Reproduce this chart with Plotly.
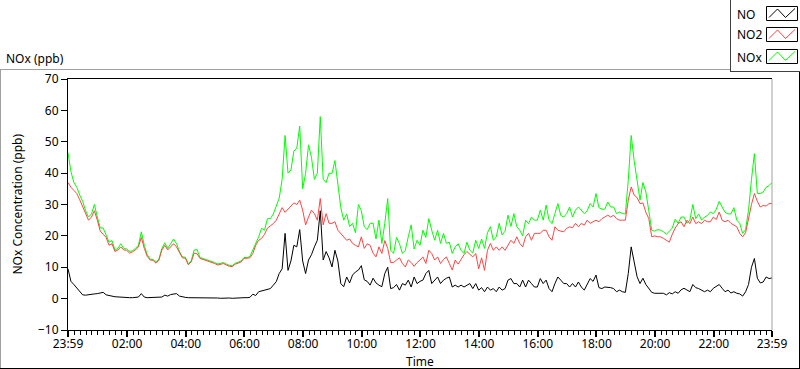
import plotly.graph_objects as go

# ---------------- data (6-minute samples starting 23:59) ----------------
step_minutes = 6

nox_ppb = [
    46.5, 40.5, 37, 35.5, 33, 31, 28, 26, 27, 30,
    26, 22.5, 22.5, 20.5, 18, 18.5, 15.5, 16, 17.5, 16,
    15.8, 15, 15.3, 16, 17, 21.3, 17, 14, 12.6, 12.5,
    11.6, 12.6, 16, 17.8, 16, 17.5, 19, 17.5, 15, 13.3,
    13.2, 11.1, 12, 15.5, 15.6, 13.1, 12.8, 12.5, 12.1, 11.8,
    11.5, 11.0, 11.2, 11.5, 11.0, 10.6, 10.5, 11.3, 11.6, 12.0,
    13.1, 13.1, 13.4, 15.5, 17.5, 19.7, 22.4, 21.8, 25.5, 25.5,
    27, 29.5, 32, 38, 52, 40, 41, 47, 48, 55,
    35, 39.9, 49, 45, 38, 40, 58, 38, 37, 40,
    39.9, 44, 36, 29, 25, 27, 23, 24, 21, 30,
    28, 22.9, 22, 24, 24, 19, 25, 17.6, 24, 31.9,
    15.4, 14.4, 19.5, 17.5, 14.4, 15.4, 19.7, 23.5, 15.8, 18.6,
    17, 21.8, 19.5, 25.5, 21.8, 18.6, 21.8, 17.6, 20.8, 17.6,
    18, 14.4, 16.5, 17.5, 15.4, 14.4, 18, 15.4, 14.5, 18.6,
    16, 19, 16, 21, 22.9, 18.6, 19.7, 24, 20.3, 21.5,
    26.6, 23, 27.1, 22.9, 21.8, 20, 25, 23.9, 26, 25,
    25, 28.2, 25, 29.8, 25, 23.9, 27.1, 30.3, 26.5, 26,
    27.1, 29.2, 26, 28.2, 29.2, 28.2, 27.1, 28, 30.3, 29.2,
    33.5, 29, 28.5, 28.5, 30.8, 29.2, 29.2, 27.1, 27.6, 27.1,
    27, 37.7, 52, 44, 37, 31.4, 37, 34, 28, 21.8,
    21.5, 22, 21.8, 21.3, 20.5, 21.5, 22.5, 25.3, 24, 26,
    26, 24, 25, 30, 25.5, 27, 25, 26, 26.5, 27.6,
    27.1, 28.5, 31, 29.2, 27.5, 27, 27, 29, 25, 24,
    20.8, 22, 28.2, 38, 46.2, 33.5, 33.5, 34, 35.5, 36, 37,
]

no2_ppb = [
    37, 35.5, 34.5, 33.5, 31.5, 29.5, 27, 25, 26, 28,
    25, 21.5, 20.5, 19.5, 17, 17.5, 15, 15.5, 16.5, 15.5,
    15.4, 14.5, 14.9, 15.5, 16.5, 19.5, 16, 13.5, 12.3, 12.2,
    11.3, 12.3, 15.5, 17, 15.5, 16.5, 17.5, 16.5, 14.5, 13,
    12.9, 10.8, 11.7, 14.5, 14.3, 12.8, 12.5, 12.2, 11.8, 11.5,
    11.2, 10.7, 10.9, 11.2, 10.7, 10.3, 10.2, 11.0, 11.3, 11.7,
    12.8, 12.8, 13, 14.4, 17, 18.6, 19.2, 20.5, 22.5, 23.2,
    23.9, 25, 27, 29, 27.5, 28.5, 29.5, 30.5, 30, 31.4,
    28.2, 23.5, 26, 28.2, 27.1, 25, 31.9, 23.5, 27.1, 24,
    24, 24.5, 21.8, 20.8, 19.7, 18.6, 19, 17.6, 17, 16.5,
    19.7, 16, 17.5, 17, 14.5, 13.3, 16.5, 14.4, 18.5, 16,
    11.5, 11.5, 12.3, 13, 11.2, 10.1, 12.3, 11.5, 10.3, 11.5,
    12.3, 13.3, 11.2, 15.4, 14.4, 12.3, 13.3, 11.2, 12.5, 13.3,
    11.2, 9.1, 12.3, 11, 12.5, 14, 15, 14, 13.3, 14.4,
    9.5, 13, 9, 15.4, 17.6, 15.4, 16.5, 15.4, 16.5, 15.4,
    17, 18.6, 17.6, 19.7, 17.6, 16.5, 19.7, 20.8, 18.6, 20.8,
    20.8, 20.8, 21.8, 21.8, 19.7, 18.6, 22.9, 21.8, 21.5, 21.3,
    22.4, 22.9, 22.6, 24, 22.9, 24, 23.4, 25, 24, 24.5,
    25, 24.5, 25.5, 26, 26.6, 26, 26.6, 25.5, 25, 25,
    25, 31.4, 35.6, 33, 32.2, 30.3, 30.5, 27.5, 25.5, 19.7,
    20, 19.7, 19.7, 19.2, 18.6, 18, 20.5, 22.5, 23.9, 24.5,
    22.9, 25, 23.9, 26, 23.9, 24.5, 23.9, 25, 24.5, 24.5,
    26, 25.2, 27.6, 25, 24.5, 25, 24, 23.5, 22.9, 20.8,
    19.7, 21, 26, 30, 33.5, 31, 29.2, 29.7, 29.5, 30.3, 30.3,
]

no_ppb = [
    9.5, 5.5, 4.5, 3.5, 2.2, 1.2, 1.1, 1.3, 1.4, 1.5,
    1.6, 1.8, 2.0, 1.2, 0.9, 0.8, 0.6, 0.5, 0.5, 0.4,
    0.4, 0.3, 0.3, 0.4, 0.5, 1.6, 0.5, 0.3, 0.3, 0.3,
    0.3, 0.3, 0.5, 1.1, 0.8, 1.3, 1.4, 1.6, 0.8, 0.5,
    0.4, 0.3, 0.3, 0.3, 0.4, 0.3, 0.2, 0.2, 0.2, 0.2,
    0.2, 0.2, 0.1, 0.2, 0.2, 0.2, 0.1, 0.2, 0.3, 0.3,
    0.3, 0.3, 0.4, 1.4, 1.0, 2.2, 2.5, 2.7, 3.0, 3.2,
    4.3, 5.4, 8, 9.5, 20.8, 9, 12, 17, 16.5, 22,
    12, 8, 12.3, 14, 16.5, 18.6, 28, 12.3, 15, 13,
    10.1, 15.4, 12, 4.8, 3.8, 6.9, 5, 7.5, 8.5, 9.1,
    10.5, 6, 5.5, 4.3, 6.5, 5, 4.3, 3.8, 8, 10,
    3.2, 3.5, 4.5, 2.7, 4.8, 4.3, 5.9, 3.7, 6.9, 4.8,
    5.5, 5.9, 8, 9, 4.8, 5.9, 6.9, 4.8, 5.9, 6.5,
    6.9, 3.7, 4.3, 3.7, 4.3, 3.7, 4.3, 4.8, 3.2, 4.8,
    2.7, 3.5, 2.2, 3.7, 2.7, 3.2, 2.2, 3.7, 2.7, 3.2,
    5.9, 6.4, 4.8, 4.8, 3.7, 5.9, 3.7, 5.9, 4.8, 3.7,
    3.7, 6.4, 4.8, 5.9, 3.2, 2.2, 4.8, 6.9, 5.9, 4.8,
    4.8, 3.7, 4.8, 3.7, 5.3, 3.7, 2.7, 4.8, 6.4, 5.5,
    7.5, 3.5, 3.2, 3.7, 3.7, 3.5, 3.2, 2.2, 2.7, 2.2,
    2, 8, 16.5, 11.5, 7, 4.8, 6.5, 4.5, 3.3, 2,
    1.7, 1.7, 1.5, 1.7, 1.2, 1.9, 1.5, 2.2, 1.7, 2.8,
    3.3, 2.7, 2.2, 4.5, 3.5, 3.2, 2.7, 2.2, 2.7, 2.2,
    3.3, 3.8, 4.5, 3.3, 2.2, 2.7, 1.8, 2.2, 1.7, 1.5,
    0.8, 2.2, 4.5, 10, 12.8, 6.5, 5, 5.3, 6.9, 6.4, 6.6,
]

x_tick_labels = ["23:59", "02:00", "04:00", "06:00", "08:00", "10:00", "12:00",
                 "14:00", "16:00", "18:00", "20:00", "22:00", "23:59"]
y_tick_values = [-10, 0, 10, 20, 30, 40, 50, 60, 70]
series_names = ["NO", "NO2", "NOx"]

# ---------------- derived axis helpers ----------------
minutes = [i * step_minutes for i in range(len(nox_ppb))]
start_min = 23 * 60 + 59


def label_pos(i, lab):
    h, m = lab.split(":")
    t = (int(h) * 60 + int(m) - start_min) % 1440
    return 1440 if (i > 0 and t == 0) else t


x_tick_vals = [label_pos(i, s) for i, s in enumerate(x_tick_labels)]

# pixel -> paper helpers (plot area: x 68..772, y 79..330)
L, R, T, B = 68, 772, 79, 330


def px(x):
    return (x - L) / (R - L)


def py(y):
    return (B - y) / (B - T)


FONT = "Noto Sans"
colors = {"NOx": "#00ff00", "NO2": "#ff4545", "NO": "#000000"}
values = {"NOx": nox_ppb, "NO2": no2_ppb, "NO": no_ppb}

fig = go.Figure()
for name in ["NOx", "NO2", "NO"]:
    fig.add_trace(go.Scatter(x=minutes, y=values[name], mode="lines", name=name,
                             line=dict(color=colors[name], width=1),
                             showlegend=False, hoverinfo="skip"))

fig.update_layout(
    width=800, height=369,
    margin=dict(l=L, r=800 - R, t=T, b=369 - B),
    paper_bgcolor="white", plot_bgcolor="white",
    font=dict(family=FONT, size=12, color="black"),
    xaxis=dict(range=[0, 1440], tickmode="array", tickvals=x_tick_vals,
               ticktext=x_tick_labels, ticks="outside", ticklen=6, tickwidth=2,
               tickcolor="black", showline=True, linecolor="black", linewidth=1,
               mirror=True, showgrid=False, zeroline=False, ticklabelstandoff=-3,
               minor=dict(ticks="outside", ticklen=4, tickwidth=1, tickcolor="black",
                          tickmode="linear", tick0=1, dtick=12, showgrid=False)),
    yaxis=dict(range=[-10, 70], tickmode="array", tickvals=y_tick_values,
               ticks="outside", ticklen=6, tickwidth=1, tickcolor="black",
               showline=True, linecolor="black", linewidth=1, showgrid=False,
               zeroline=False),
)

shapes = [
    # right border of plot area (grey)
    dict(type="line", xref="paper", yref="paper", x0=1, x1=1, y0=0, y1=1,
         line=dict(color="#a0a0a0", width=1)),
    # panel frame
    dict(type="line", xref="paper", yref="paper", x0=px(0.5), x1=px(0.5), y0=py(69.5), y1=py(369),
         line=dict(color="#a0a0a0", width=1)),
    dict(type="line", xref="paper", yref="paper", x0=px(0), x1=px(730.5), y0=py(69.5), y1=py(69.5),
         line=dict(color="#a0a0a0", width=1)),
    dict(type="line", xref="paper", yref="paper", x0=px(0), x1=px(800), y0=py(368.5), y1=py(368.5),
         line=dict(color="#000000", width=1)),
    dict(type="line", xref="paper", yref="paper", x0=px(799.5), x1=px(799.5), y0=py(72), y1=py(369),
         line=dict(color="#000000", width=1)),
    # legend box
    dict(type="line", xref="paper", yref="paper", x0=px(730.5), x1=px(730.5), y0=py(0), y1=py(72),
         line=dict(color="#404040", width=1)),
    dict(type="line", xref="paper", yref="paper", x0=px(730.5), x1=px(800), y0=py(71.5), y1=py(71.5),
         line=dict(color="#404040", width=1)),
]

annotations = [
    dict(text="Time", xref="paper", yref="paper", x=px(420), y=py(361.5),
         xanchor="center", yanchor="middle", showarrow=False, font=dict(size=12)),
    dict(text="NOx Concentration (ppb)", xref="paper", yref="paper", x=px(17), y=py(204.5),
         xanchor="center", yanchor="middle", textangle=-90, showarrow=False, font=dict(size=12)),
    dict(text="NOx (ppb)", xref="paper", yref="paper", x=px(4), y=py(58),
         xanchor="left", yanchor="middle", showarrow=False, font=dict(size=12)),
]

legend_rows = [14, 35, 57]
legend_colors = ["#000000", "#ff4545", "#00ff00"]
for name, cy, col in zip(series_names, legend_rows, legend_colors):
    top, bot = cy - 7.5, cy + 6.5
    shapes.append(dict(type="rect", xref="paper", yref="paper",
                       x0=px(766.5), x1=px(797.5), y0=py(bot), y1=py(top),
                       line=dict(color="#000000", width=1), fillcolor="white"))
    pts = [(769, bot - 3), (777.5, top + 2.5), (785.5, bot - 3), (795, top + 2)]
    path = "M " + " L ".join(f"{px(a):.5f},{py(b):.5f}" for a, b in pts)
    shapes.append(dict(type="path", xref="paper", yref="paper", path=path,
                       line=dict(color=col, width=1)))
    annotations.append(dict(text=name, xref="paper", yref="paper", x=px(735), y=py(cy),
                            xanchor="left", yanchor="middle", showarrow=False,
                            font=dict(size=12)))

fig.update_layout(shapes=shapes, annotations=annotations)
fig.write_html("out.html", config={"displayModeBar": False},
               post_script="document.body.style.margin='0';document.body.style.overflow='hidden';")
